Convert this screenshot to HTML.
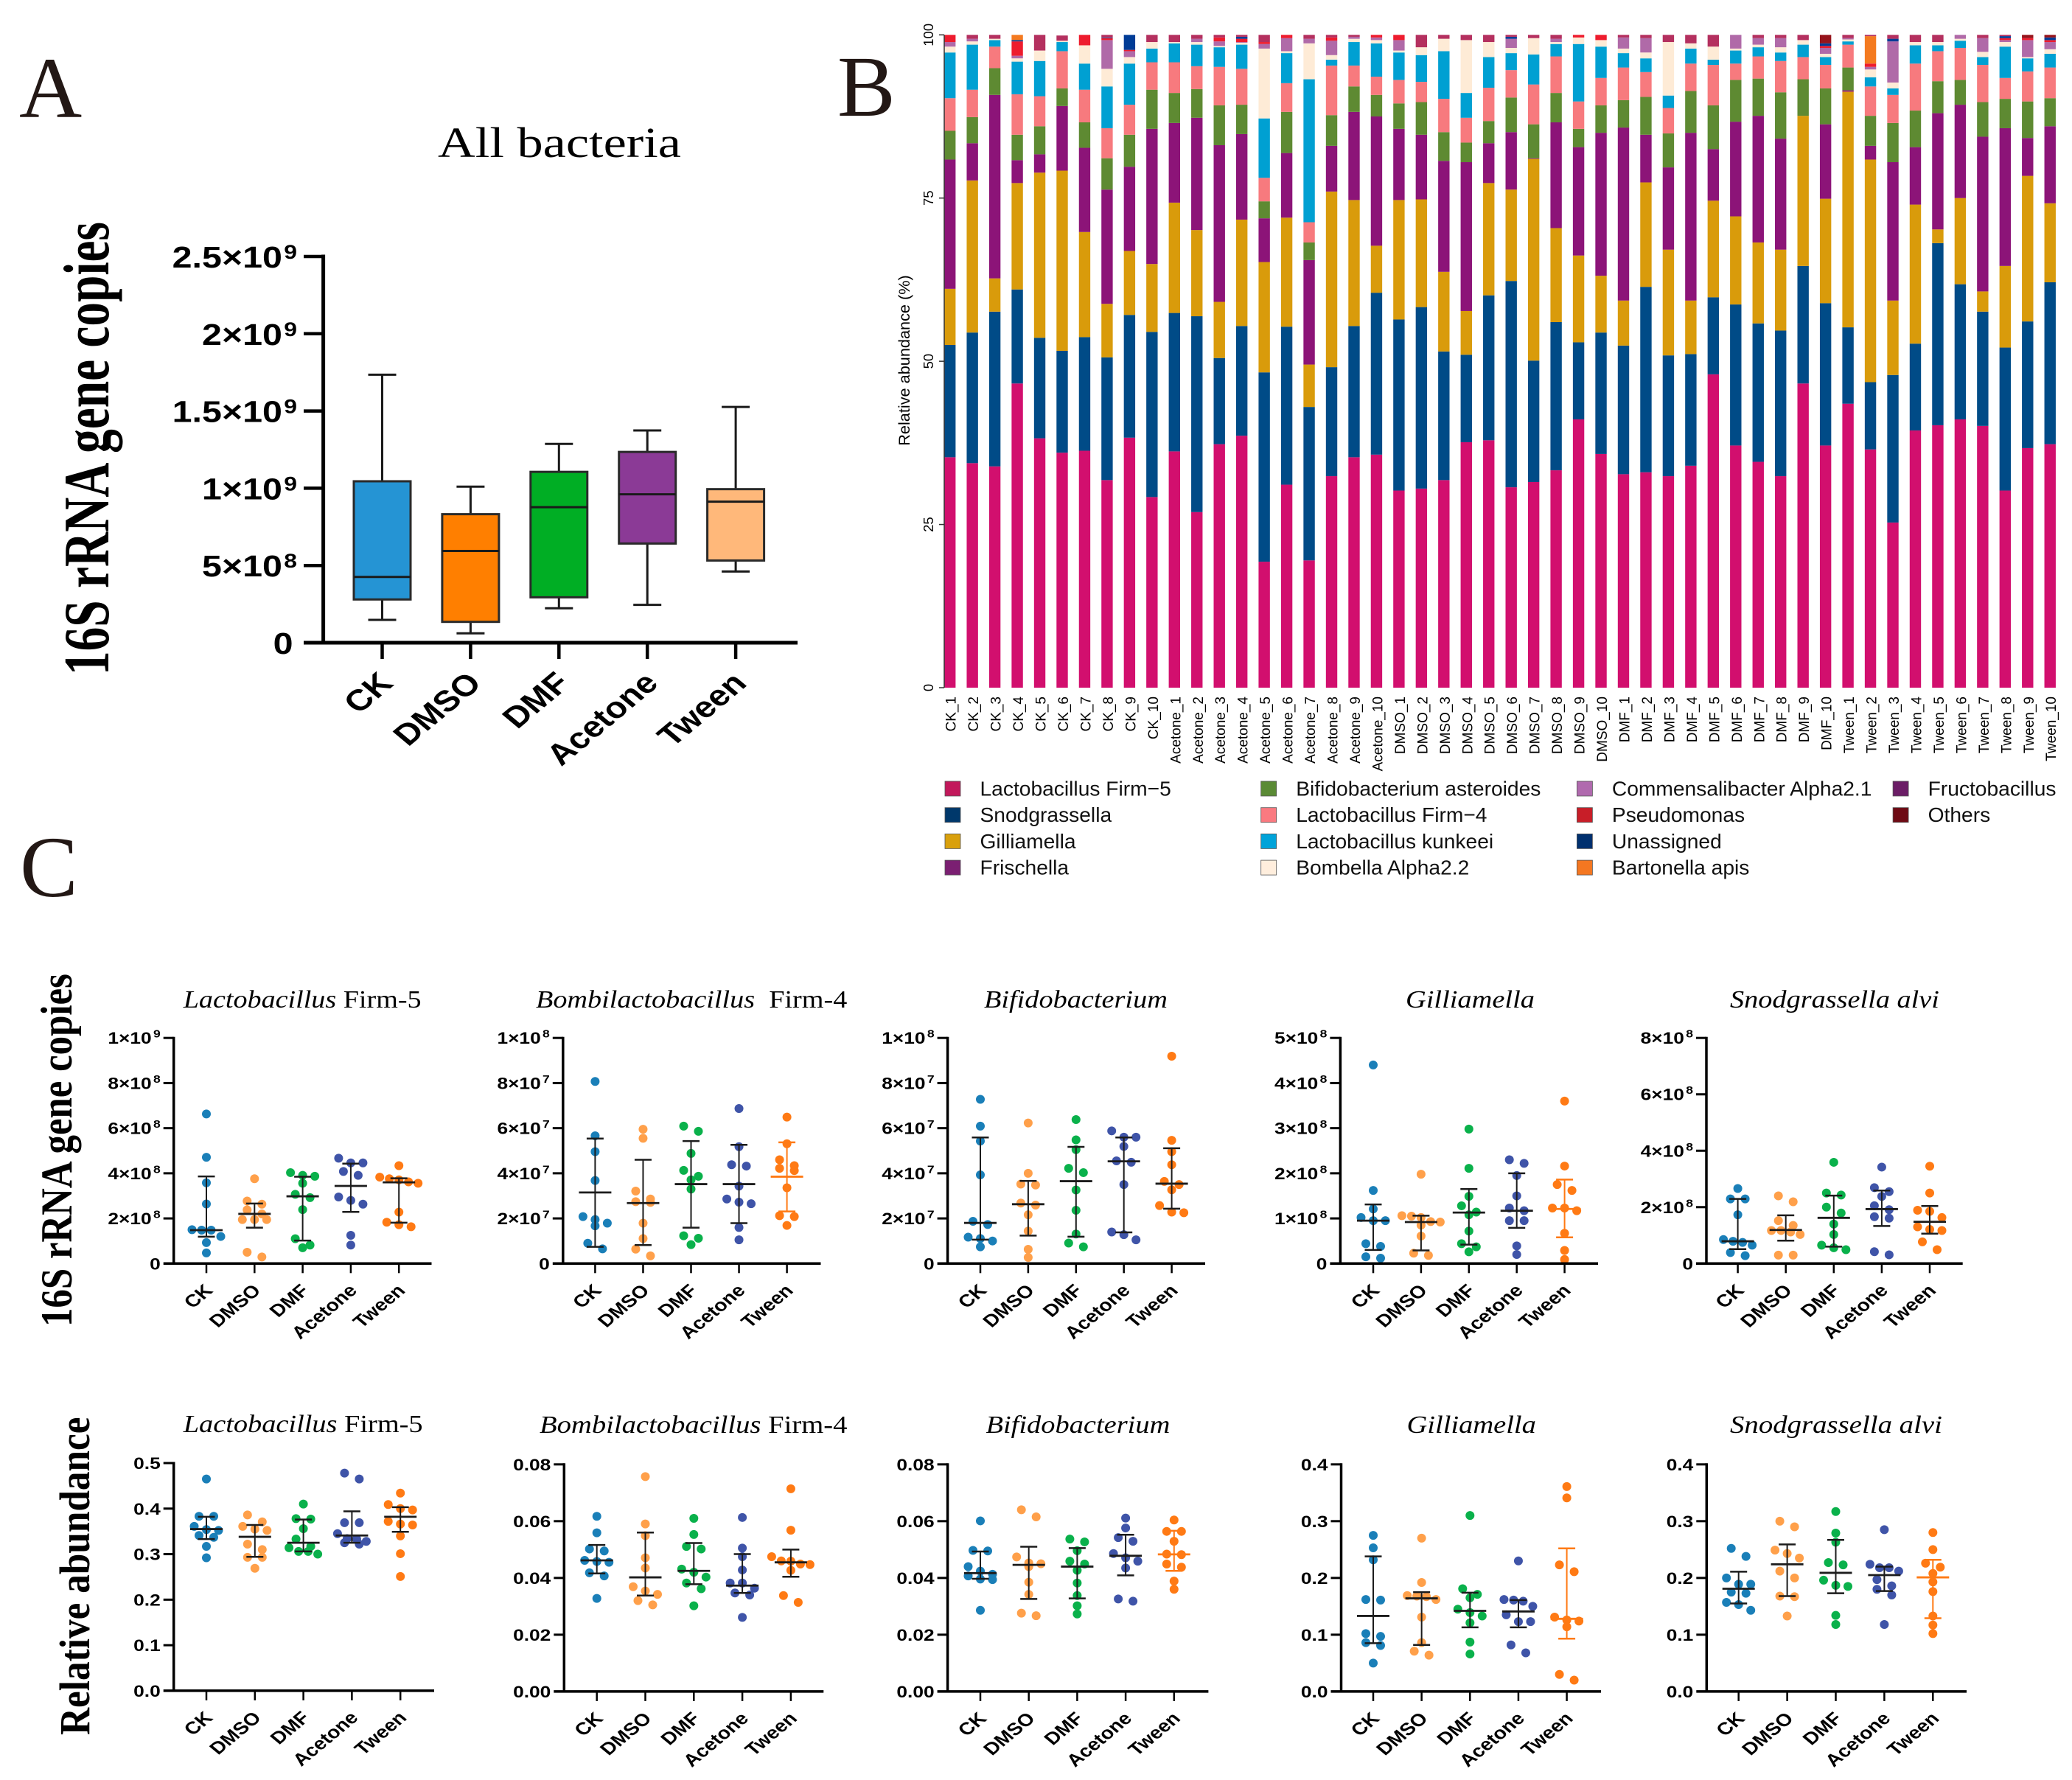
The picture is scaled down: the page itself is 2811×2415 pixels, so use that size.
<!DOCTYPE html>
<html lang="en">
<head>
<meta charset="utf-8">
<title>Bacterial abundance figure</title>
<style>
html,body{margin:0;padding:0;background:#fff;}
svg{display:block;}
text{fill:#000;}
</style>
</head>
<body>
<svg id="figure" xmlns="http://www.w3.org/2000/svg" width="2811" height="2415" viewBox="0 0 2811 2415">
<rect x="0" y="0" width="2811" height="2415" fill="#fff"/>
<text x="26" y="159" font-family="Liberation Serif, serif" font-size="118" style="fill:#231815">A</text>
<text x="1136" y="157" font-family="Liberation Serif, serif" font-size="118" style="fill:#231815">B</text>
<text x="27" y="1216" font-family="Liberation Serif, serif" font-size="118" style="fill:#231815">C</text>
</svg>
<script>
const SERIF='"Liberation Serif", serif';
const SANS='"Liberation Sans", Arial, sans-serif';

/* ---------- Panel A data ---------- */
const boxCategories=['CK','DMSO','DMF','Acetone','Tween'];
const boxMin=[1.48e8,6.1e7,2.23e8,2.45e8,4.61e8];
const boxQ1=[2.8e8,1.35e8,2.94e8,6.42e8,5.32e8];
const boxMedian=[4.26e8,5.94e8,8.77e8,9.61e8,9.13e8];
const boxQ3=[1.045e9,8.32e8,1.106e9,1.235e9,9.94e8];
const boxMax=[1.735e9,1.01e9,1.287e9,1.374e9,1.526e9];
const boxColors=['#2594D4','#FF7F00','#00AE24','#8B3A96','#FFB87A'];
const boxTickValues=[0,5e8,1e9,1.5e9,2e9,2.5e9];
const boxTickLabels=['0','5×10^8','1×10^9','1.5×10^9','2×10^9','2.5×10^9'];

/* ---------- Panel B data ---------- */
const sampleLabels=['CK_1','CK_2','CK_3','CK_4','CK_5','CK_6','CK_7','CK_8','CK_9','CK_10','Acetone_1','Acetone_2','Acetone_3','Acetone_4','Acetone_5','Acetone_6','Acetone_7','Acetone_8','Acetone_9','Acetone_10','DMSO_1','DMSO_2','DMSO_3','DMSO_4','DMSO_5','DMSO_6','DMSO_7','DMSO_8','DMSO_9','DMSO_10','DMF_1','DMF_2','DMF_3','DMF_4','DMF_5','DMF_6','DMF_7','DMF_8','DMF_9','DMF_10','Tween_1','Tween_2','Tween_3','Tween_4','Tween_5','Tween_6','Tween_7','Tween_8','Tween_9','Tween_10'];
const stackFirm5=[35.3,34.4,33.9,46.6,38.2,36.0,36.3,31.8,38.3,29.2,36.2,26.9,37.3,38.6,19.3,31.1,19.5,32.4,35.3,35.7,30.2,30.5,31.8,37.6,37.9,30.7,31.5,33.3,41.1,35.8,32.7,33,32.4,34,48,37.1,34.6,32.4,46.6,37.1,43.5,36.5,25.3,39.4,40.2,41.1,40.1,30.2,36.7,37.3];
const stackSnodgrassella=[17.2,20.0,23.7,14.4,15.4,15.6,17.4,18.8,18.8,25.3,21.2,30,13.2,16.8,29,24.2,23.5,16.7,20.1,24.8,26.2,27.8,19.7,13.4,22.2,31.6,18.6,22.7,11.8,18.6,19.7,28.4,18.5,17.1,11.8,21.6,21.2,22.3,18,21.8,11.7,10.3,22.6,13.3,27.9,20.7,17.5,21.9,19.4,24.8];
const stackGilliamella=[8.6,23.3,5.1,16.3,25.3,27.6,16.1,8.2,9.8,10.4,16.9,13.2,8.6,16.3,16.9,16.7,6.5,26.9,19.3,7.2,18.3,16.5,12.2,6.7,17.2,14,30.9,14.4,13.3,8.7,6.9,16,16.2,8.2,14.8,13.5,12.4,12.4,23,16,36.1,34.1,11.4,21.3,2.1,13.2,3.1,12.5,22.3,12.1];
const stackFrischella=[19.8,5.7,28.1,3.5,2.8,9.9,12.9,17.5,12.9,20.7,12.2,17.2,24,13.1,6.7,9.9,16,7,13.5,19.8,10.9,9.9,17,22.8,6.1,8.8,0.1,16.2,16.6,21.9,26.5,7.3,12.6,25.7,7.9,14.5,19.4,17,0,11.4,0.2,2.1,21.2,8.8,17.8,14.3,23.7,21.1,5.8,11.8];
const stackBifidobacterium=[4.4,4,4.1,3.9,4.3,2.7,3.9,4.8,4.9,6,4.6,4.4,6.1,4.5,2.6,6.3,2.7,4.7,3.9,3.3,3.9,5,4.4,3,3.4,5.3,5.2,4.5,2.8,4.2,4.2,5.8,5.2,6.4,6.7,6.4,5.7,7.1,5.6,5.5,3.5,4.6,6,5.6,4.9,3.8,5.3,4.5,5.6,4.3];
const stackFirm4=[5,4.2,3.3,6.2,4.6,5.7,5,4.6,4.6,4.2,4.7,3.5,5.9,5.5,3.6,4.4,3.1,7.6,3.2,2.8,3.6,3.1,5.1,3.8,5.1,4.2,6.1,5.6,4.2,4.2,5,3.8,3.9,4.2,6.2,2.5,3.4,4.8,3.4,3.6,3.5,4.5,4.3,7.2,4.6,4.9,5.7,3.2,4.6,4.7];
const stackKunkeei=[7,6.9,1,5,5.4,1.4,4,6.4,6.3,2.1,2.9,3.3,3,3.7,9.1,4.6,21.9,0.9,3.6,5.1,4.2,4.1,7.3,3.8,4.7,2.6,4.6,1.9,8.8,4.8,2.2,2.1,1.9,2.3,0.8,2,1.4,1.3,1.9,1.2,0.5,1.4,1,2.8,0.9,1.1,1.2,4.8,2,2.1];
const stackBombella=[0.9,0.5,0.2,0.5,1.6,0.2,2.8,2.7,1,1,0.2,0.4,0.2,0.3,10.7,0.3,5.5,0.7,0.5,0.5,0.3,1.2,1.9,8.1,2.3,0.8,2.5,0.3,1,1,0.7,0.9,8.2,0.8,2,0.3,0.4,0.8,0.7,0.5,0.3,1.2,0.9,0.5,0.5,0.3,0.8,0.7,0.2,0.7];
const stackCommensalibacter=[0.7,0.4,0,0.4,0,0,0,4.4,0.9,0,0,0.5,0.7,0.1,0.7,2,0.7,2.2,0.3,0.4,1.6,0,0,0,0,1.4,0,0.5,0,0,1.7,2.2,0,0,0,2.1,1,1.4,0,0.9,0.2,0.4,6.3,0,0,0.6,2.1,0.3,2.6,1.1];
const stackPseudomonas=[1.1,0,0,2.2,0,0,1.6,0.3,0.2,0,0,0,0.6,0.5,0.3,0.5,0,0.5,0,0.4,0.8,0,0,0,0,0,0,0,0.4,0.8,0,0,0,0,0,0,0,0,0,0.3,0,0.5,0,0,0,0,0,0.3,0.3,0.3];
const stackUnassigned=[0,0,0,0.2,0,0,0,0.1,2.3,0,0,0,0,0.3,0,0,0,0,0,0,0,0,0,0,0,0.3,0,0,0,0,0,0,0,0,0,0,0,0,0,0.4,0,0,0.4,0,0,0,0,0.3,0,0.4];
const stackBartonella=[0,0,0,0.8,0,0,0,0,0,0,0,0,0,0,0,0,0,0,0,0,0,0,0,0,0,0,0,0,0,0,0,0,0,0,0,0,0,0,0,0,0,4.2,0,0,0,0,0,0,0,0];
const stackFructobacillus=[0,0.6,0.6,0,2.4,0.8,0,0.4,0,1.1,1.1,0.6,0.4,0.3,1.1,0,0.6,0.4,0.3,0,0,1.9,0.6,0.8,1.1,0.3,0.5,0.6,0,0,0.4,0.5,1.1,1.3,1.8,0,0.5,0.5,0.8,0,0.5,0.2,0.6,1.1,1.1,0,0.5,0.2,0,0];
const stackOthers=[0,0,0,0,0,0,0,0,0,0,0,0,0,0,0,0,0,0,0,0,0,0,0,0,0,0,0,0,0,0,0,0,0,0,0,0,0,0,0,1.3,0,0,0,0,0,0,0,0,0.5,0.4];
const stackSeries=[stackFirm5,stackSnodgrassella,stackGilliamella,stackFrischella,stackBifidobacterium,stackFirm4,stackKunkeei,stackBombella,stackCommensalibacter,stackPseudomonas,stackUnassigned,stackBartonella,stackFructobacillus,stackOthers];
const stackColors=['#D20F6E','#004B87','#D99B0B','#8C1478','#5E8A32','#F77A7E','#00A0D2','#FEEBD6','#B06AA8','#EE1C2E','#003C96','#F47A20','#B4305F','#96141C'];
const legendNames=['Lactobacillus Firm−5','Snodgrassella','Gilliamella','Frischella','Bifidobacterium asteroides','Lactobacillus Firm−4','Lactobacillus kunkeei','Bombella Alpha2.2','Commensalibacter Alpha2.1','Pseudomonas','Unassigned','Bartonella apis','Fructobacillus','Others'];
const legendColors=['#C2185B','#00386B','#D9A00C','#7B1F72','#5A8A35','#FA7A80','#00A3D9','#FFEEDD','#B06AAE','#C81E28','#00306F','#F47721','#6B1D66','#6E0A14'];
const stackTickValues=[0,25,50,75,100];

/* ---------- Panel C shared ---------- */
const scatterCategories=['CK','DMSO','DMF','Acetone','Tween'];
const scatterColors=['#1A7FB8','#FFA04A','#0AB14B','#3F54A8','#FF7A14'];

/* 16S copies: Lactobacillus Firm-5 (units 1e8) */
const copiesFirm5Values=[[6.63,4.71,3.58,2.64,1.5,1.48,1.48,1.2,0.93,0.47],[3.76,2.77,2.63,2.38,2.2,1.95,1.95,1.95,0.5,0.29],[4.03,3.91,3.87,3.56,3.07,2.92,2.39,1.1,0.82,0.7],[4.67,4.46,4.46,4.08,3.91,2.95,2.8,2.63,1.25,0.82],[4.34,3.83,3.76,3.71,3.62,3.56,2.28,1.83,1.72,1.63]];
const copiesFirm5Median=[1.48,2.2,2.98,3.44,3.6];
const copiesFirm5Q1=[1.19,1.59,1.02,2.29,1.81];
const copiesFirm5Q3=[3.86,2.66,3.85,4.43,3.78];
const copiesFirm5Ticks=[0,2,4,6,8,10];
const copiesFirm5TickLabels=['0','2×10^8','4×10^8','6×10^8','8×10^8','1×10^9'];

/* 16S copies: Bombilactobacillus Firm-4 (units 1e7) */
const copiesFirm4Values=[[8.07,5.66,4.96,3.68,2.08,1.95,1.79,1.67,0.9,0.65],[5.95,5.55,3.21,2.86,2.74,2.71,1.79,1.11,0.64,0.34],[6.09,5.86,4.88,4.13,3.87,3.71,3.3,1.23,1.12,0.84],[6.87,5.18,4.38,4.32,3.43,2.86,2.72,2.65,1.6,1.05],[6.49,5.31,4.6,4.34,4.22,4.12,3.36,2.12,2.08,1.69]];
const copiesFirm4Median=[3.15,2.68,3.52,3.52,3.85];
const copiesFirm4Q1=[0.74,0.82,1.59,1.79,2.31];
const copiesFirm4Q3=[5.54,4.6,5.43,5.26,5.37];
const copiesFirm4Ticks=[0,2,4,6,8,10];
const copiesFirm4TickLabels=['0','2×10^7','4×10^7','6×10^7','8×10^7','1×10^8'];

/* 16S copies: Bifidobacterium (units 1e7) */
const copiesBifidoValues=[[7.28,6.09,5.43,3.93,1.87,1.73,1.17,1.11,1.0,0.74],[6.23,4.0,3.52,3.48,2.68,2.59,2.16,1.44,0.63,0.27],[6.38,5.48,5.05,4.22,4.03,3.26,2.36,1.31,0.91,0.74],[5.88,5.6,5.6,5.19,4.55,4.49,3.5,1.4,1.28,1.05],[9.19,5.46,4.96,4.38,3.64,3.5,3.27,2.57,2.28,2.25]];
const copiesBifidoMedian=[1.8,2.63,3.65,4.53,3.54];
const copiesBifidoQ1=[1.06,1.24,1.19,1.38,2.43];
const copiesBifidoQ3=[5.59,3.66,5.17,5.59,5.11];
const copiesBifidoTicks=[0,2,4,6,8,10];
const copiesBifidoTickLabels=['0','2×10^7','4×10^7','6×10^7','8×10^7','1×10^8'];

/* 16S copies: Gilliamella (units 1e8) */
const copiesGilliValues=[[4.4,1.62,1.21,1.02,0.95,0.95,0.44,0.38,0.15,0.12],[1.98,1.06,1.05,1.02,0.93,0.92,0.85,0.61,0.23,0.18],[2.98,2.11,1.49,1.28,1.14,1.08,0.72,0.44,0.37,0.26],[2.3,2.22,1.95,1.5,1.23,1.17,0.95,0.95,0.39,0.2],[3.6,2.16,1.75,1.62,1.23,1.23,1.17,0.67,0.29,0.09]];
const copiesGilliMedian=[0.95,0.92,1.13,1.17,1.21];
const copiesGilliQ1=[0.3,0.29,0.42,0.79,0.58];
const copiesGilliQ3=[1.31,1.06,1.65,2.0,1.86];
const copiesGilliTicks=[0,1,2,3,4,5];
const copiesGilliTickLabels=['0','1×10^8','2×10^8','3×10^8','4×10^8','5×10^8'];

/* 16S copies: Snodgrassella alvi (units 1e8) */
const copiesSnodValues=[[2.66,2.29,2.29,1.73,0.85,0.79,0.75,0.65,0.39,0.28],[2.4,2.19,1.52,1.35,1.17,1.17,1.12,1.03,0.3,0.3],[3.59,2.5,2.43,2.0,1.79,1.4,1.03,0.65,0.56,0.49],[3.42,2.69,2.55,2.38,2.05,1.91,1.66,1.61,0.42,0.31],[3.45,2.5,1.89,1.85,1.63,1.3,1.21,1.17,0.77,0.49]];
const copiesSnodMedian=[0.79,1.19,1.62,1.93,1.48];
const copiesSnodQ1=[0.51,0.81,0.6,1.33,1.06];
const copiesSnodQ3=[2.29,1.71,2.41,2.59,2.04];
const copiesSnodTicks=[0,2,4,6,8];
const copiesSnodTickLabels=['0','2×10^8','4×10^8','6×10^8','8×10^8'];

/* Relative abundance: Lactobacillus Firm-5 */
const abundFirm5Values=[[0.465,0.383,0.383,0.361,0.354,0.352,0.341,0.337,0.317,0.292],[0.386,0.371,0.361,0.355,0.352,0.322,0.31,0.293,0.293,0.269],[0.41,0.378,0.377,0.356,0.333,0.317,0.314,0.306,0.306,0.3],[0.478,0.465,0.369,0.369,0.345,0.334,0.333,0.328,0.325,0.322],[0.434,0.409,0.4,0.397,0.372,0.366,0.364,0.34,0.301,0.251]];
const abundFirm5Median=[0.355,0.338,0.325,0.341,0.382];
const abundFirm5Q1=[0.333,0.294,0.306,0.325,0.349];
const abundFirm5Q3=[0.382,0.364,0.376,0.394,0.403];
const abundFirm5Ticks=[0,0.1,0.2,0.3,0.4,0.5];
const abundFirm5TickLabels=['0.0','0.1','0.2','0.3','0.4','0.5'];

/* Relative abundance: Bombilactobacillus Firm-4 */
const abundFirm4Values=[[0.0617,0.0559,0.0502,0.0495,0.0462,0.0458,0.0455,0.0418,0.0407,0.0328],[0.0757,0.059,0.0549,0.0471,0.0435,0.0369,0.0354,0.0342,0.032,0.0305],[0.061,0.0553,0.0511,0.0502,0.0431,0.042,0.0403,0.0382,0.0362,0.0302],[0.0613,0.0505,0.0475,0.0428,0.0382,0.0382,0.0364,0.0347,0.034,0.0261],[0.0714,0.0568,0.0475,0.046,0.0459,0.0449,0.0447,0.0427,0.0338,0.0314]];
const abundFirm4Median=[0.0462,0.0402,0.0425,0.0373,0.0455];
const abundFirm4Q1=[0.0416,0.0338,0.0378,0.0347,0.0404];
const abundFirm4Q3=[0.0516,0.056,0.0523,0.0484,0.05];
const abundFirm4Ticks=[0,0.02,0.04,0.06,0.08];
const abundFirm4TickLabels=['0.00','0.02','0.04','0.06','0.08'];

/* Relative abundance: Bifidobacterium */
const abundBifidoValues=[[0.0601,0.0497,0.0495,0.044,0.0424,0.0413,0.0407,0.0396,0.0394,0.0286],[0.064,0.0615,0.0474,0.0453,0.045,0.044,0.0385,0.0342,0.0276,0.0267],[0.0537,0.0527,0.0496,0.0459,0.0449,0.0427,0.0382,0.0338,0.0302,0.0273],[0.0611,0.0576,0.0542,0.0529,0.0486,0.0471,0.0459,0.0435,0.0326,0.0318],[0.0604,0.0564,0.0564,0.0529,0.0484,0.0482,0.0449,0.0438,0.0389,0.036]];
const abundBifidoMedian=[0.0417,0.0446,0.044,0.0478,0.0483];
const abundBifidoQ1=[0.0397,0.0326,0.0328,0.0409,0.0425];
const abundBifidoQ3=[0.0493,0.051,0.0505,0.0552,0.0566];
const abundBifidoTicks=[0,0.02,0.04,0.06,0.08];
const abundBifidoTickLabels=['0.00','0.02','0.04','0.06','0.08'];

/* Relative abundance: Gilliamella */
const abundGilliValues=[[0.275,0.253,0.232,0.162,0.161,0.102,0.097,0.086,0.081,0.05],[0.27,0.192,0.169,0.168,0.167,0.162,0.131,0.086,0.071,0.064],[0.31,0.181,0.171,0.165,0.145,0.139,0.133,0.121,0.087,0.066],[0.23,0.162,0.161,0.159,0.15,0.135,0.123,0.123,0.082,0.068],[0.361,0.341,0.223,0.211,0.131,0.126,0.124,0.114,0.03,0.02]];
const abundGilliMedian=[0.133,0.164,0.142,0.141,0.128];
const abundGilliQ1=[0.085,0.082,0.113,0.113,0.093];
const abundGilliQ3=[0.238,0.175,0.174,0.161,0.252];
const abundGilliTicks=[0,0.1,0.2,0.3,0.4];
const abundGilliTickLabels=['0.0','0.1','0.2','0.3','0.4'];

/* Relative abundance: Snodgrassella alvi */
const abundSnodValues=[[0.252,0.238,0.2,0.189,0.189,0.175,0.173,0.157,0.153,0.143],[0.3,0.29,0.249,0.243,0.235,0.212,0.2,0.168,0.167,0.133],[0.317,0.279,0.263,0.227,0.223,0.196,0.187,0.185,0.134,0.118],[0.285,0.224,0.218,0.218,0.212,0.197,0.186,0.18,0.17,0.118],[0.28,0.25,0.226,0.219,0.208,0.193,0.176,0.133,0.117,0.102]];
const abundSnodMedian=[0.181,0.224,0.209,0.205,0.201];
const abundSnodQ1=[0.155,0.168,0.173,0.177,0.129];
const abundSnodQ3=[0.211,0.259,0.267,0.22,0.232];
const abundSnodTicks=[0,0.1,0.2,0.3,0.4];
const abundSnodTickLabels=['0.0','0.1','0.2','0.3','0.4'];

const panels=[
 {slug:'copies-lactobacillus-firm5',it:'Lactobacillus',plain:' Firm-5',tx:248.7,tw:323,axis:235.7,end:585.5,first:280,step:65.3,yTop:1408.2,yZero:1714.3,tb:1367,vals:copiesFirm5Values,med:copiesFirm5Median,q1:copiesFirm5Q1,q3:copiesFirm5Q3,ticks:copiesFirm5Ticks,labels:copiesFirm5TickLabels,tweenOrange:false},
 {slug:'copies-bombilactobacillus-firm4',it:'Bombilactobacillus',plain:'  Firm-4',tx:727,tw:422.5,axis:763.8,end:1113.5,first:807.4,step:65.05,yTop:1408.2,yZero:1714.3,tb:1367,vals:copiesFirm4Values,med:copiesFirm4Median,q1:copiesFirm4Q1,q3:copiesFirm4Q3,ticks:copiesFirm4Ticks,labels:copiesFirm4TickLabels,tweenOrange:true},
 {slug:'copies-bifidobacterium',it:'Bifidobacterium',plain:'',tx:1335,tw:249,axis:1285.6,end:1635,first:1330,step:64.9,yTop:1408.2,yZero:1714.3,tb:1367,vals:copiesBifidoValues,med:copiesBifidoMedian,q1:copiesBifidoQ1,q3:copiesBifidoQ3,ticks:copiesBifidoTicks,labels:copiesBifidoTickLabels,tweenOrange:false},
 {slug:'copies-gilliamella',it:'Gilliamella',plain:'',tx:1907,tw:175,axis:1818.4,end:2168,first:1863,step:64.9,yTop:1408.2,yZero:1714.3,tb:1367,vals:copiesGilliValues,med:copiesGilliMedian,q1:copiesGilliQ1,q3:copiesGilliQ3,ticks:copiesGilliTicks,labels:copiesGilliTickLabels,tweenOrange:true},
 {slug:'copies-snodgrassella-alvi',it:'Snodgrassella alvi',plain:'',tx:2347,tw:284,axis:2315,end:2662.7,first:2357.6,step:65.1,yTop:1408.2,yZero:1714.3,tb:1367,vals:copiesSnodValues,med:copiesSnodMedian,q1:copiesSnodQ1,q3:copiesSnodQ3,ticks:copiesSnodTicks,labels:copiesSnodTickLabels,tweenOrange:false},
 {slug:'abundance-lactobacillus-firm5',it:'Lactobacillus',plain:' Firm-5',tx:248.7,tw:325,axis:235.7,end:589,first:280,step:65.8,yTop:1985,yZero:2293.9,tb:1943,vals:abundFirm5Values,med:abundFirm5Median,q1:abundFirm5Q1,q3:abundFirm5Q3,ticks:abundFirm5Ticks,labels:abundFirm5TickLabels,tweenOrange:false},
 {slug:'abundance-bombilactobacillus-firm4',it:'Bombilactobacillus',plain:' Firm-4',tx:732,tw:417.5,axis:765.3,end:1117.3,first:809.7,step:65.8,yTop:1986.8,yZero:2294.9,tb:1943.8,vals:abundFirm4Values,med:abundFirm4Median,q1:abundFirm4Q1,q3:abundFirm4Q3,ticks:abundFirm4Ticks,labels:abundFirm4TickLabels,tweenOrange:false},
 {slug:'abundance-bifidobacterium',it:'Bifidobacterium',plain:'',tx:1337.5,tw:250,axis:1285.6,end:1639.4,first:1330,step:65.7,yTop:1986.8,yZero:2294.9,tb:1943.8,vals:abundBifidoValues,med:abundBifidoMedian,q1:abundBifidoQ1,q3:abundBifidoQ3,ticks:abundBifidoTicks,labels:abundBifidoTickLabels,tweenOrange:true},
 {slug:'abundance-gilliamella',it:'Gilliamella',plain:'',tx:1908.5,tw:175.5,axis:1819.5,end:2172,first:1863,step:65.65,yTop:1986.8,yZero:2294.9,tb:1943.8,vals:abundGilliValues,med:abundGilliMedian,q1:abundGilliQ1,q3:abundGilliQ3,ticks:abundGilliTicks,labels:abundGilliTickLabels,tweenOrange:true},
 {slug:'abundance-snodgrassella-alvi',it:'Snodgrassella alvi',plain:'',tx:2347,tw:288,axis:2315.3,end:2668,first:2358.7,step:65.9,yTop:1986.8,yZero:2294.9,tb:1943.8,vals:abundSnodValues,med:abundSnodMedian,q1:abundSnodQ1,q3:abundSnodQ3,ticks:abundSnodTicks,labels:abundSnodTickLabels,tweenOrange:true}
];

/* ---------- helpers ---------- */
const NS='http://www.w3.org/2000/svg';
const root=document.getElementById('figure');
function mk(parent,tag,attrs){
  const e=document.createElementNS(NS,tag);
  for(const k in attrs){e.setAttribute(k,attrs[k]);}
  parent.appendChild(e);
  return e;
}
function line(parent,x1,y1,x2,y2,color,w){
  return mk(parent,'line',{x1:x1,y1:y1,x2:x2,y2:y2,stroke:color,'stroke-width':w});
}
function fillLabel(t,str,supSize,supDy){
  const parts=str.split('^');
  t.appendChild(document.createTextNode(parts[0]));
  if(parts.length>1){
    const s=mk(t,'tspan',{'font-size':supSize,dy:supDy,dx:2});
    s.textContent=parts[1];
  }
}
function fitWidth(t,target){
  const natural=t.getComputedTextLength();
  return natural>0?target/natural:1;
}

/* ---------- outer y titles and main title ---------- */
const fitTitles=[
 {s:'All bacteria',x:594,y:213,w:330,fs:58,b:false,rot:false,name:'panel-a-title'},
 {s:'16S rRNA gene copies',x:147,y:916,w:615,fs:88,b:true,rot:true,name:'panel-a-y-axis-title'},
 {s:'16S rRNA gene copies',x:97,y:1800,w:479,fs:60,b:true,rot:true,name:'panel-c-copies-y-axis-title'},
 {s:'Relative abundance',x:121,y:2354,w:431.6,fs:58,b:true,rot:true,name:'panel-c-abundance-y-axis-title'}
];
fitTitles.forEach(function(d){
  const t=mk(root,'text',{'font-family':SERIF,'font-size':d.fs,'font-weight':d.b?'bold':'normal'});
  
  
  t.textContent=d.s;
  const k=fitWidth(t,d.w);
  t.setAttribute('transform','translate('+d.x+','+d.y+')'+(d.rot?' rotate(-90)':'')+' scale('+k+',1)');
});

/* ---------- Panel A ---------- */
(function(){
  const g=mk(root,'g',{});
  
  
  const axisX=438.6,endX=1082,yZero=872,yTop=348,firstCat=518.5,catStep=119.9;
  const yMax=2.5e9;
  const yS=function(v){return yZero-(yZero-yTop)*v/yMax;};
  const xS=function(i){return firstCat+catStep*i;};
  const halfBox=38.5,halfCap=19;
  boxCategories.forEach(function(c,i){
    const cx=xS(i);
    const box=mk(g,'g',{});
    
    
    line(box,cx,yS(boxMin[i]),cx,yS(boxMax[i]),'#1a1a1a',3);
    line(box,cx-halfCap,yS(boxMax[i]),cx+halfCap,yS(boxMax[i]),'#1a1a1a',3);
    line(box,cx-halfCap,yS(boxMin[i]),cx+halfCap,yS(boxMin[i]),'#1a1a1a',3);
    mk(box,'rect',{x:cx-halfBox,y:yS(boxQ3[i]),width:halfBox*2,height:yS(boxQ1[i])-yS(boxQ3[i]),fill:boxColors[i],stroke:'#2a2a2a','stroke-width':3});
    line(box,cx-halfBox,yS(boxMedian[i]),cx+halfBox,yS(boxMedian[i]),'#1a1a1a',3);
  });
  const yAxis=line(g,axisX,yTop-2.5,axisX,yZero+2.5,'#000',5);
  
  
  const xAxis=line(g,412,yZero,endX,yZero,'#000',5);
  
  
  boxTickValues.forEach(function(v,i){
    const y=yS(v);
    if(i>0){line(g,412,y,axisX,y,'#000',4.5);}
    const t=mk(g,'text',{'font-family':SANS,'font-size':41,'font-weight':'bold','text-anchor':'end',transform:'translate('+(v===0?397.5:403)+','+(y+15)+') scale(1.18,1)'});
    
    
    fillLabel(t,boxTickLabels[i],27,-12);
  });
  boxCategories.forEach(function(c,i){
    const cx=xS(i);
    line(g,cx,yZero,cx,yZero+22,'#000',4.5);
    const t=mk(g,'text',{'font-family':SANS,'font-size':40,'font-weight':'bold','text-anchor':'end',transform:'translate('+(cx+17)+','+(yZero+57)+') scale(1.2,1) rotate(-45)'});
    
    
    t.textContent=c;
  });
})();

/* ---------- Panel B ---------- */
(function(){
  const g=mk(root,'g',{});
  
  
  const axisX=1281,yZero=933,yTop=47.3,barW=15.4,firstBar=1281,barStep=30.46;
  const yS=function(v){return yZero-(yZero-yTop)*v/100;};
  sampleLabels.forEach(function(label,i){
    const x=firstBar+barStep*i;
    const bar=mk(g,'g',{});
    
    
    let cum=0;
    stackSeries.forEach(function(arr,s){
      const v=arr[i];
      if(v>0){
        mk(bar,'rect',{x:x,y:yS(cum+v),width:barW,height:yS(cum)-yS(cum+v),fill:stackColors[s]});
        cum+=v;
      }
    });
    const t=mk(g,'text',{'font-family':SANS,'font-size':19,'text-anchor':'end',transform:'translate('+(x+barW/2+8)+',945) rotate(-90)','fill':'#222'});
    
    
    t.textContent=label;
  });
  const ax=line(g,axisX,yTop,axisX,yZero,'#333',1.5);
  
  
  stackTickValues.forEach(function(v){
    const y=yS(v);
    line(g,axisX-7,y,axisX,y,'#333',1.5);
    const t=mk(g,'text',{'font-family':SANS,'font-size':18.5,'text-anchor':'middle',transform:'translate(1266,'+y+') rotate(-90)'});
    
    
    t.textContent=String(v);
  });
  const yt=mk(g,'text',{'font-family':SANS,'font-size':21.7,'text-anchor':'middle',transform:'translate(1234,489) rotate(-90)'});
  
  
  yt.textContent='Relative abundance (%)';

  const lg=mk(root,'g',{});
  
  
  legendNames.forEach(function(n,i){
    const col=Math.floor(i/4),row=i%4;
    const sx=1282+428.7*col,ry=1070+35.7*row;
    const e=mk(lg,'g',{});
    
    
    const sw=mk(e,'rect',{x:sx,y:ry-10,width:21,height:20,fill:legendColors[i],stroke:'#555','stroke-width':0.8});
    
    
    const t=mk(e,'text',{x:sx+47.5,y:ry+9.5,'font-family':SANS,'font-size':28.2,style:'fill:#111'});
    
    
    t.textContent=n;
  });
})();

/* ---------- Panel C scatter plots ---------- */
panels.forEach(function(p){
  const g=mk(root,'g',{});
  
  
  const yMax=p.ticks[p.ticks.length-1];
  const yS=function(v){return p.yZero-(p.yZero-p.yTop)*v/yMax;};
  const xS=function(i){return p.first+p.step*i;};

  const title=mk(g,'text',{'font-family':SERIF,'font-size':33.5});
  
  
  const itSpan=mk(title,'tspan',{'font-style':'italic'});
  itSpan.textContent=p.it;
  if(p.plain){
    const pl=mk(title,'tspan',{});
    pl.style.whiteSpace='pre';
    pl.textContent=p.plain;
  }
  const k=fitWidth(title,p.tw);
  title.setAttribute('transform','translate('+p.tx+','+p.tb+') scale('+k+',1)');

  scatterCategories.forEach(function(c,i){
    const cx=xS(i);
    const group=mk(g,'g',{});
    
    
    const sorted=p.vals[i].slice().sort(function(a,b){return b-a;});
    let start=0;
    while(start<sorted.length){
      let end=start+1;
      while(end<sorted.length && yS(sorted[end])-yS(sorted[start])<11){end++;}
      const n=end-start;
      const gap=n===2?20:(n>=4?13:16.5);
      for(let j=start;j<end;j++){
        const dot=mk(group,'circle',{cx:cx+(j-start-(n-1)/2)*gap,cy:yS(sorted[j]),r:6,fill:scatterColors[i]});
        
        
      }
      start=end;
    }
    const ec=(p.tweenOrange && i===4)?'#FF7A14':'#1c1c1c';
    const stem=line(group,cx,yS(p.q1[i]),cx,yS(p.q3[i]),ec,2);
    
    
    line(group,cx-11.5,yS(p.q1[i]),cx+11.5,yS(p.q1[i]),ec,2.5);
    line(group,cx-11.5,yS(p.q3[i]),cx+11.5,yS(p.q3[i]),ec,2.5);
    const med=line(group,cx-22,yS(p.med[i]),cx+22,yS(p.med[i]),ec,2.8);
    
    
  });

  const yAxis=line(g,p.axis,p.yTop-1.5,p.axis,p.yZero+1.5,'#000',3.5);
  
  
  const xAxis=line(g,p.axis-14,p.yZero,p.end,p.yZero,'#000',3.5);
  
  
  p.ticks.forEach(function(v,i){
    const y=yS(v);
    if(i>0){line(g,p.axis-14,y,p.axis,y,'#000',3);}
    const t=mk(g,'text',{'font-family':SANS,'font-size':22.5,'font-weight':'bold','text-anchor':'end',transform:'translate('+(p.axis-18)+','+(y+8)+') scale(1.17,1)'});
    
    
    fillLabel(t,p.labels[i],15,-8.5);
  });
  scatterCategories.forEach(function(c,i){
    const cx=xS(i);
    line(g,cx,p.yZero,cx,p.yZero+13,'#000',2.5);
    const t=mk(g,'text',{'font-family':SANS,'font-size':23.5,'font-weight':'bold','text-anchor':'end',transform:'translate('+(cx+10)+','+(p.yZero+38)+') scale(1.2,1) rotate(-45)'});
    
    
    t.textContent=c;
  });
});
</script>
</body>
</html>
